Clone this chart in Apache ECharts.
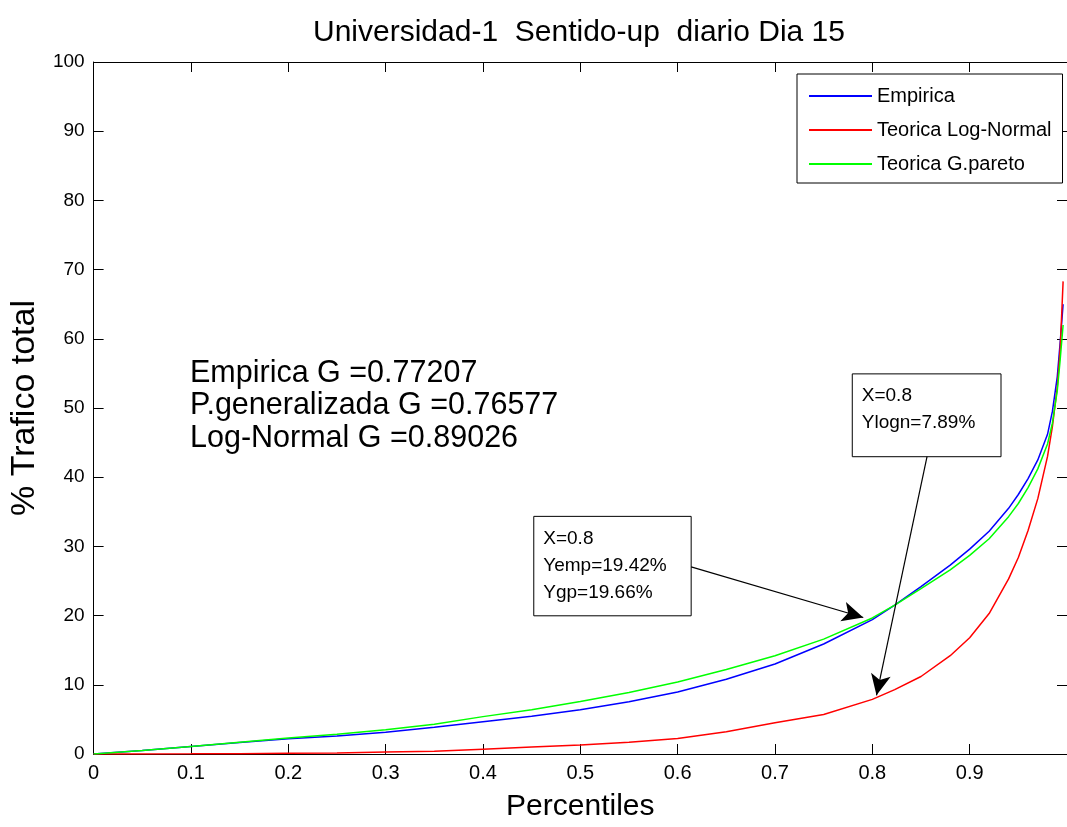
<!DOCTYPE html>
<html>
<head>
<meta charset="utf-8">
<title>Universidad-1 Sentido-up diario Dia 15</title>
<script src="https://cdn.jsdelivr.net/npm/echarts@6.0.0/dist/echarts.min.js"></script>
<style>
  html, body { margin: 0; padding: 0; background: #fff; }
  #chart { width: 1067px; height: 827px; }
</style>
</head>
<body>
<div id="chart"></div>
<script>
// === DATA ===
const percentiles = [0, 0.05, 0.1, 0.15, 0.2, 0.25, 0.3, 0.35, 0.4, 0.45, 0.5, 0.55, 0.6, 0.65, 0.7, 0.75,
    0.8, 0.823, 0.85, 0.88, 0.9, 0.92, 0.94, 0.95, 0.96, 0.97, 0.98, 0.985, 0.99, 0.993, 0.996];
const empirica = [0, 0.5, 1.1, 1.65, 2.2, 2.6, 3.15, 3.85, 4.65, 5.45, 6.4, 7.55, 8.95, 10.8, 13.0, 15.9,
    19.42, 21.5, 24.2, 27.3, 29.6, 32.2, 35.5, 37.5, 39.8, 42.5, 46.2, 49.5, 54.5, 59.5, 65.0];
const logNormal = [0, 0, 0.02, 0.05, 0.1, 0.15, 0.3, 0.4, 0.7, 1.0, 1.3, 1.7, 2.25, 3.2, 4.5, 5.7,
    7.89, 9.3, 11.2, 14.2, 16.8, 20.3, 25.3, 28.4, 32.3, 36.9, 43.0, 47.3, 53.0, 58.5, 68.3];
const gPareto = [0, 0.5, 1.1, 1.7, 2.3, 2.85, 3.5, 4.3, 5.4, 6.4, 7.6, 8.9, 10.4, 12.2, 14.2, 16.6,
    19.66, 21.5, 23.9, 26.6, 28.7, 31.1, 34.3, 36.2, 38.5, 41.2, 44.8, 47.8, 52.5, 57.0, 62.0];

const seriesNames = ['Empirica', 'Teorica Log-Normal', 'Teorica G.pareto'];
const giniLines = ['Empirica G =0.77207', 'P.generalizada G =0.76577', 'Log-Normal G =0.89026'];
const note1 = ['X=0.8', 'Yemp=19.42%', 'Ygp=19.66%'];
const note2 = ['X=0.8', 'Ylogn=7.89%'];

// === HELPERS ===
const FONT = '"Liberation Sans", Arial, sans-serif';
const zip = (xs, ys) => xs.map((x, i) => [x, ys[i]]);

function noteBox(corner1, corner2, lines) {
    return {
        silent: true,
        itemStyle: { color: '#fff', borderColor: '#000', borderWidth: 1 },
        label: {
            show: true,
            position: 'insideTopLeft',
            formatter: lines.join('\n'),
            fontFamily: FONT,
            fontSize: 19,
            lineHeight: 27,
            color: '#000',
            padding: [4, 0, 0, 5]
        },
        data: [[{ coord: corner1 }, { coord: corner2 }]]
    };
}

function arrow(from, to) {
    return {
        silent: true,
        animation: false,
        symbol: ['none', 'arrow'],
        symbolSize: [15, 21],
        lineStyle: { color: '#000', width: 1.2, type: 'solid' },
        label: { show: false },
        emphasis: { disabled: true },
        data: [[{ coord: from }, { coord: to }]]
    };
}

// === CHART ===
const chart = echarts.init(document.getElementById('chart'));

// MATLAB-style box: ticks point inward on all four sides
const axisCommon = {
    type: 'value',
    axisLine: { show: true, onZero: false, lineStyle: { color: '#000', width: 1 } },
    axisTick: { show: true, inside: true, length: 10, lineStyle: { color: '#000' } },
    splitLine: { show: false }
};

chart.setOption({
    animation: false,
    backgroundColor: '#fff',
    title: {
        text: 'Universidad-1  Sentido-up  diario Dia 15',
        left: 308,
        top: 13,
        textStyle: { fontFamily: FONT, fontSize: 30, fontWeight: 'normal', color: '#000' }
    },
    legend: {
        orient: 'vertical',
        left: 797,
        top: 74,
        backgroundColor: '#fff',
        borderColor: '#000',
        borderWidth: 1,
        borderRadius: 0,
        padding: [12, 11, 9, 12],
        itemWidth: 63,
        itemHeight: 2,
        itemGap: 14,
        icon: 'rect',
        textStyle: { fontFamily: FONT, fontSize: 20, lineHeight: 18, color: '#000' },
        data: seriesNames
    },
    grid: { left: 92, right: -3, top: 62, bottom: 68 },
    xAxis: [
        Object.assign({}, axisCommon, {
            position: 'bottom',
            min: 0, max: 1, interval: 0.1,
            name: 'Percentiles',
            nameLocation: 'middle',
            nameGap: 38,
            nameTextStyle: { fontFamily: FONT, fontSize: 30, color: '#000' },
            axisLabel: {
                fontFamily: FONT, fontSize: 20, color: '#000', margin: 9,
                showMaxLabel: false,
                formatter: v => (v === 0 ? '0' : v.toFixed(1))
            }
        }),
        Object.assign({}, axisCommon, {
            position: 'top',
            min: 0, max: 1, interval: 0.1,
            axisLabel: { show: false }
        })
    ],
    yAxis: [
        Object.assign({}, axisCommon, {
            position: 'left',
            min: 0, max: 100, interval: 10,
            name: '% Trafico total',
            nameLocation: 'middle',
            nameGap: 48,
            nameTextStyle: { fontFamily: FONT, fontSize: 34, color: '#000' },
            axisLabel: { fontFamily: FONT, fontSize: 19, color: '#000', margin: 9 }
        }),
        Object.assign({}, axisCommon, {
            position: 'right',
            min: 0, max: 100, interval: 10,
            axisLabel: { show: false }
        })
    ],
    graphic: [{
        type: 'text',
        left: 190,
        top: 357,
        silent: true,
        style: {
            text: giniLines.join('\n'),
            font: '30.5px ' + FONT,
            lineHeight: 32.5,
            fill: '#000'
        }
    }],
    series: [
        {
            name: seriesNames[0],
            type: 'line',
            showSymbol: false,
            color: '#0000ff',
            lineStyle: { width: 1.5 },
            data: zip(percentiles, empirica),
            markArea: noteBox([0.4522, 34.34], [0.6139, 19.97], note1),
            markLine: arrow([0.6139, 27.05], [0.7907, 19.73])
        },
        {
            name: seriesNames[1],
            type: 'line',
            showSymbol: false,
            color: '#ff0000',
            lineStyle: { width: 1.5 },
            data: zip(percentiles, logNormal),
            markArea: noteBox([0.7794, 54.93], [0.9322, 42.96], note2),
            markLine: arrow([0.8562, 42.96], [0.8043, 8.48])
        },
        {
            name: seriesNames[2],
            type: 'line',
            showSymbol: false,
            color: '#00ff00',
            lineStyle: { width: 1.5 },
            data: zip(percentiles, gPareto)
        }
    ]
});
</script>
</body>
</html>
